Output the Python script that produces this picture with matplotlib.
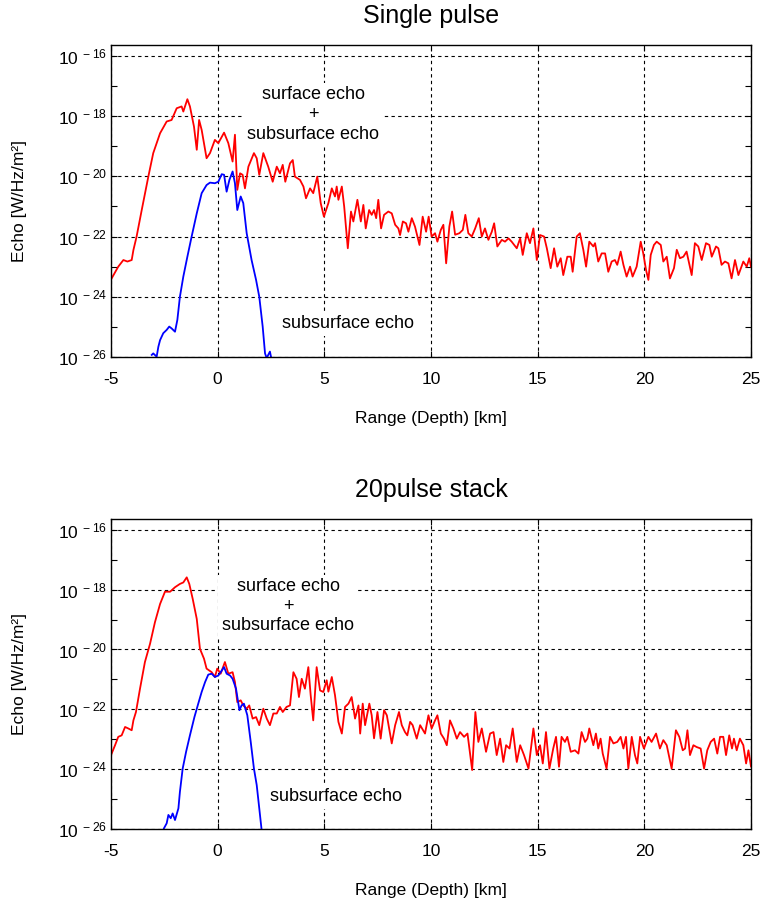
import numpy as np
import matplotlib
matplotlib.use("Agg")
import matplotlib.pyplot as plt
from matplotlib.ticker import FixedLocator, FixedFormatter, NullFormatter

# values, echo given as log10 exponent
range_single_total = [
    -4.97, -4.66, -4.42, -4.23, -4.03, -3.95, -3.80, -3.56, -3.25, -3.02, -2.70, -2.39, -2.16,
    -1.92, -1.69, -1.61, -1.42, -1.30, -1.11, -0.98, -0.87, -0.75, -0.52, -0.36, -0.13, 0.03,
    0.30, 0.50, 0.70, 0.81, 0.92, 1.05, 1.17, 1.28, 1.44, 1.70, 1.83, 1.95, 2.14, 2.37, 2.58,
    2.77, 2.92, 3.05, 3.17, 3.39, 3.52, 3.62, 3.86, 4.02, 4.14, 4.33, 4.48, 4.67, 4.83, 4.98,
    5.19, 5.35, 5.50, 5.58, 5.66, 5.82, 5.93, 6.10, 6.25, 6.36, 6.55, 6.71, 6.83, 6.94, 7.10,
    7.22, 7.33, 7.43, 7.53, 7.66, 7.80, 8.00, 8.16, 8.32, 8.47, 8.55, 8.68, 8.83, 8.94, 9.10,
    9.25, 9.46, 9.61, 9.77, 9.89, 10.03, 10.19, 10.30, 10.46, 10.58, 10.71, 10.86, 10.99, 11.13,
    11.33, 11.49, 11.61, 11.75, 11.91, 12.07, 12.24, 12.38, 12.53, 12.69, 12.85, 12.96, 13.11,
    13.32, 13.47, 13.63, 13.78, 14.02, 14.18, 14.30, 14.49, 14.64, 14.80, 14.96, 15.11, 15.30,
    15.43, 15.61, 15.77, 15.92, 16.08, 16.20, 16.39, 16.55, 16.64, 16.83, 16.98, 17.14, 17.27,
    17.42, 17.61, 17.69, 17.84, 18.00, 18.16, 18.31, 18.47, 18.62, 18.73, 18.89, 19.02, 19.17,
    19.33, 19.45, 19.64, 19.83, 19.95, 20.08, 20.19, 20.30, 20.45, 20.58, 20.77, 20.89, 21.05,
    21.20, 21.39, 21.52, 21.67, 21.83, 21.98, 22.22, 22.37, 22.53, 22.69, 22.89, 23.05, 23.16,
    23.36, 23.47, 23.62, 23.78, 23.94, 24.09, 24.25, 24.41, 24.64, 24.80, 24.92, 25.0]
echo_single_total = [
    -23.39, -23.00, -22.78, -22.83, -22.78, -22.45, -22.00, -21.12, -20.01, -19.23, -18.57,
    -18.18, -18.13, -17.74, -17.68, -17.85, -17.44, -17.68, -18.35, -19.12, -18.13, -18.46,
    -19.40, -19.23, -18.79, -18.90, -18.55, -18.90, -19.51, -18.62, -20.45, -19.90, -19.95,
    -20.40, -19.68, -19.23, -19.40, -19.95, -19.23, -19.68, -20.18, -19.68, -19.90, -19.62,
    -20.18, -19.57, -19.46, -20.01, -20.12, -20.34, -20.73, -20.40, -20.56, -20.01, -20.89,
    -21.34, -20.89, -20.40, -20.67, -20.34, -20.78, -20.34, -21.00, -22.39, -21.17, -21.50,
    -20.78, -21.50, -20.95, -21.73, -21.12, -21.28, -21.12, -21.39, -20.78, -21.73, -21.28,
    -21.17, -21.23, -21.61, -21.73, -21.95, -21.50, -21.56, -21.84, -21.39, -21.67, -22.28,
    -21.34, -21.84, -21.34, -22.00, -21.89, -22.17, -21.78, -21.61, -22.89, -21.67, -21.17,
    -21.94, -21.89, -21.78, -21.28, -21.89, -22.00, -21.73, -21.39, -22.00, -21.73, -22.11,
    -21.84, -21.56, -22.33, -22.11, -22.17, -22.06, -22.17, -22.39, -22.06, -22.61, -21.89,
    -22.22, -21.73, -22.78, -21.95, -22.00, -22.39, -23.05, -22.39, -23.00, -22.72, -23.28,
    -22.67, -22.67, -23.17, -22.00, -21.89, -22.44, -23.00, -22.17, -22.33, -22.22, -22.83,
    -22.56, -22.56, -23.17, -22.83, -22.78, -22.94, -22.50, -22.94, -23.33, -23.00, -23.33,
    -23.00, -22.17, -22.56, -23.11, -23.44, -22.61, -22.28, -22.17, -22.28, -22.83, -22.67,
    -23.39, -23.05, -22.44, -22.72, -22.67, -22.50, -23.28, -22.22, -22.33, -22.78, -22.22,
    -22.28, -22.67, -22.33, -22.39, -22.94, -22.83, -22.89, -23.39, -22.78, -23.28, -22.83,
    -23.00, -22.72, -23.00]

range_single_sub = [
    -3.09, -3.02, -2.86, -2.78, -2.70, -2.55, -2.39, -2.27, -2.16, -2.00, -1.89, -1.77, -1.61,
    -1.42, -1.22, -0.98, -0.75, -0.52, -0.36, -0.13, 0.03, 0.19, 0.30, 0.42, 0.55, 0.70, 0.81,
    0.92, 1.08, 1.20, 1.36, 1.59, 1.80, 1.95, 2.11, 2.22, 2.30, 2.37, 2.45, 2.53]
echo_single_sub = [
    -25.93, -25.88, -25.99, -25.66, -25.44, -25.21, -25.10, -24.99, -25.05, -25.16, -24.77,
    -24.00, -23.33, -22.67, -22.00, -21.23, -20.56, -20.29, -20.21, -20.23, -20.18, -19.93,
    -19.95, -20.51, -20.12, -19.84, -20.23, -21.12, -20.67, -20.89, -21.89, -22.78, -23.44,
    -24.00, -24.99, -25.88, -26.04, -25.93, -25.82, -26.10]

range_stack_total = [
    -4.97, -4.81, -4.66, -4.50, -4.34, -4.19, -4.03, -3.95, -3.83, -3.64, -3.41, -3.17, -2.94,
    -2.70, -2.47, -2.23, -2.00, -1.77, -1.61, -1.45, -1.33, -1.17, -0.98, -0.83, -0.64, -0.52,
    -0.28, -0.13, -0.02, 0.14, 0.34, 0.50, 0.70, 0.81, 0.92, 1.08, 1.20, 1.36, 1.48, 1.64,
    1.80, 1.95, 2.14, 2.30, 2.45, 2.61, 2.77, 2.92, 3.05, 3.23, 3.39, 3.55, 3.70, 3.81, 3.94,
    4.09, 4.25, 4.36, 4.48, 4.64, 4.80, 4.95, 5.11, 5.19, 5.35, 5.50, 5.66, 5.82, 5.97, 6.13,
    6.28, 6.44, 6.60, 6.68, 6.80, 6.91, 7.11, 7.22, 7.33, 7.49, 7.64, 7.80, 7.93, 8.16, 8.32,
    8.50, 8.63, 8.78, 8.89, 9.02, 9.14, 9.33, 9.49, 9.72, 9.88, 10.03, 10.19, 10.30, 10.46,
    10.61, 10.74, 10.89, 11.05, 11.21, 11.36, 11.55, 11.71, 11.93, 12.08, 12.22, 12.38, 12.58,
    12.77, 12.93, 13.08, 13.24, 13.39, 13.52, 13.68, 13.83, 14.02, 14.18, 14.36, 14.57, 14.80,
    14.96, 15.11, 15.24, 15.39, 15.55, 15.73, 15.86, 16.00, 16.12, 16.28, 16.39, 16.55, 16.75,
    16.91, 17.06, 17.22, 17.33, 17.42, 17.61, 17.73, 17.84, 17.95, 18.05, 18.23, 18.39, 18.55,
    18.73, 18.89, 19.02, 19.14, 19.25, 19.41, 19.56, 19.67, 19.80, 19.98, 20.19, 20.34, 20.55,
    20.73, 20.89, 21.05, 21.28, 21.48, 21.64, 21.80, 21.91, 22.02, 22.14, 22.30, 22.45, 22.64,
    22.80, 22.95, 23.11, 23.27, 23.42, 23.55, 23.70, 23.83, 23.98, 24.11, 24.20, 24.33, 24.48,
    24.64, 24.77, 24.88, 25.0]
echo_stack_total = [
    -23.48, -23.20, -22.92, -22.87, -22.59, -22.64, -22.70, -22.37, -22.09, -21.31, -20.42,
    -19.81, -19.09, -18.48, -18.07, -18.07, -17.92, -17.81, -17.76, -17.59, -17.81, -18.31,
    -18.98, -19.98, -20.31, -20.64, -20.76, -20.92, -20.64, -20.81, -20.42, -20.81, -20.76,
    -21.09, -21.76, -21.70, -21.87, -21.98, -21.87, -22.31, -22.26, -22.53, -21.98, -22.31,
    -22.53, -22.14, -22.14, -21.92, -22.09, -21.92, -21.87, -20.76, -20.98, -21.59, -20.98,
    -21.31, -20.59, -21.53, -22.37, -20.59, -21.37, -21.42, -21.03, -21.41, -20.92, -21.53,
    -22.42, -22.81, -21.92, -21.81, -21.59, -22.31, -21.87, -22.81, -21.81, -22.53, -21.81,
    -22.20, -22.97, -22.09, -22.98, -22.03, -22.20, -23.14, -22.53, -22.09, -22.53, -22.76,
    -22.87, -22.42, -22.53, -22.98, -22.53, -22.81, -22.20, -22.64, -22.37, -22.20, -22.81,
    -22.98, -23.20, -22.37, -22.64, -22.98, -22.76, -22.92, -22.81, -24.03, -22.09, -23.09,
    -22.64, -23.42, -22.81, -22.76, -23.53, -22.98, -23.76, -23.20, -23.31, -22.64, -23.76,
    -23.20, -23.53, -23.98, -22.64, -23.53, -23.20, -23.81, -22.76, -23.98, -23.31, -22.92,
    -23.92, -22.92, -23.09, -22.92, -23.42, -23.37, -23.48, -22.76, -23.09, -22.98, -22.64,
    -23.20, -22.81, -23.31, -22.98, -23.48, -23.98, -22.92, -23.14, -23.09, -22.92, -23.31,
    -22.92, -23.98, -22.92, -23.53, -23.81, -22.92, -23.31, -22.92, -23.09, -22.81, -23.31,
    -23.03, -23.20, -23.98, -22.70, -22.92, -23.37, -23.31, -22.70, -23.53, -23.20, -23.26,
    -23.31, -23.98, -23.37, -23.09, -22.98, -23.48, -22.92, -22.92, -23.53, -22.87, -23.31,
    -22.98, -23.37, -22.98, -23.20, -23.81, -23.37, -23.91]

range_stack_sub = [
    -2.52, -2.39, -2.31, -2.20, -2.11, -2.00, -1.84, -1.77, -1.64, -1.48, -1.30, -1.09, -0.91,
    -0.75, -0.59, -0.44, -0.28, -0.13, 0.03, 0.14, 0.30, 0.42, 0.58, 0.70, 0.86, 1.02, 1.12,
    1.23, 1.39, 1.55, 1.70, 1.83, 1.95, 2.06]
echo_stack_sub = [
    -25.98, -25.81, -25.53, -25.64, -25.48, -25.70, -25.31, -24.76, -23.98, -23.42, -22.87,
    -22.26, -21.81, -21.42, -21.09, -20.84, -20.81, -20.92, -20.87, -20.76, -20.59, -20.81,
    -20.87, -20.98, -21.31, -22.03, -21.87, -21.81, -22.20, -23.09, -23.98, -24.53, -25.31,
    -26.03]

titles = ["Single pulse", "20pulse stack"]
x_ticks = [-5, 0, 5, 10, 15, 20, 25]
y_major = [-26, -24, -22, -20, -18, -16]
y_minor = [-25, -23, -21, -19, -17]

plt.rcParams['font.family'] = ['Liberation Sans', 'DejaVu Sans']
plt.rcParams['mathtext.fontset'] = 'custom'
plt.rcParams['mathtext.rm'] = 'Liberation Sans'
plt.rcParams['mathtext.it'] = 'Liberation Sans:italic'
plt.rcParams['mathtext.bf'] = 'Liberation Sans:bold'
plt.rcParams['axes.unicode_minus'] = False

fig = plt.figure(figsize=(7.62, 9.0), dpi=100)
W, H = 762.0, 900.0

# axes boxes in pixels: left, top, right, bottom
boxes = [(111, 45, 751, 357), (111, 519, 751, 829)]
panels = [
    (range_single_total, echo_single_total, range_single_sub, echo_single_sub,
     (4.49, -17.95), (6.09, -24.9)),
    (range_stack_total, echo_stack_total, range_stack_sub, echo_stack_sub,
     (3.30, -18.56), (5.55, -24.93)),
]

for i, (box, panel) in enumerate(zip(boxes, panels)):
    l, t, r, b = box
    ax = fig.add_axes([l / W, 1 - b / H, (r - l) / W, (b - t) / H])
    xt, et, xs, es, pos_both, pos_sub = panel

    ax.plot(xt, 10.0 ** np.array(et), color='#ff0000', lw=1.3)
    ax.plot(xs, 10.0 ** np.array(es), color='#0000ff', lw=1.3)

    ax.set_yscale('log')
    ax.set_xlim(-5, 25)
    ax.set_ylim(1e-26, 10 ** -15.64)

    ax.xaxis.set_major_locator(FixedLocator(x_ticks))
    ax.set_xticklabels([str(v) for v in x_ticks])
    ax.yaxis.set_major_locator(FixedLocator([10.0 ** e for e in y_major]))
    ax.yaxis.set_major_formatter(FixedFormatter(
        [r'$\mathrm{10^{\ %d}}$' % e for e in y_major]))
    ax.yaxis.set_minor_locator(FixedLocator([10.0 ** e for e in y_minor]))
    ax.yaxis.set_minor_formatter(NullFormatter())

    ax.tick_params(which='both', direction='in', top=True, right=True,
                   length=4, width=0.8, labelsize=12.5)
    ax.tick_params(axis='x', pad=10.5)
    ax.tick_params(axis='y', pad=3)

    ax.grid(True, which='major', color='black', lw=0.8, linestyle=(0, (3, 3)))
    for s in ax.spines.values():
        s.set_linewidth(1.0)

    ax.set_title(titles[i], fontsize=18, pad=16)

    box_style = dict(facecolor='white', edgecolor='none', boxstyle='square,pad=0.2')
    ax.text(pos_both[0], 10 ** pos_both[1], "surface echo\n+\nsubsurface echo",
            ha='center', va='center', multialignment='center', fontsize=13,
            bbox=box_style, zorder=5)
    ax.text(pos_sub[0], 10 ** pos_sub[1], "subsurface echo",
            ha='center', va='center', fontsize=13, bbox=box_style, zorder=5)

    fig.text(431 / W, 1 - (b + 61) / H, "Range (Depth) [km]",
             ha='center', va='center', fontsize=12.5)
    fig.text(20 / W, 1 - ((t + b) / 2) / H, "Echo [W/Hz/m\u00b2]",
             ha='center', va='center', rotation=90, fontsize=12.5)

fig.savefig("out.png", dpi=100)
